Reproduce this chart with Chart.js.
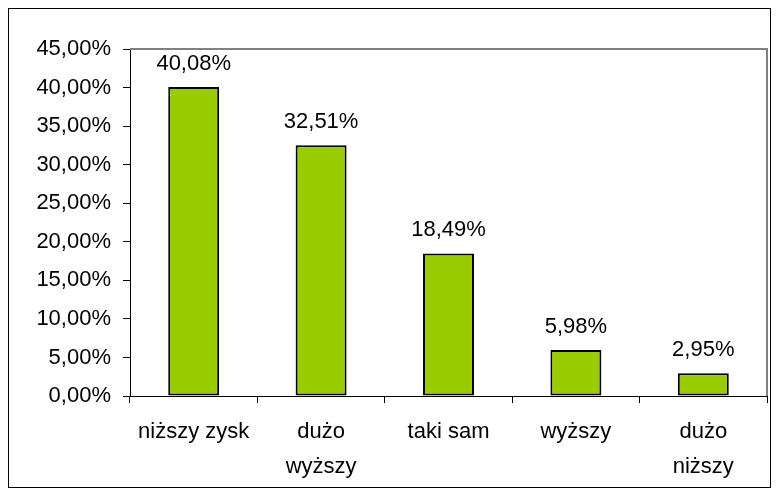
<!DOCTYPE html>
<html>
<head>
<meta charset="utf-8">
<script src="https://cdn.jsdelivr.net/npm/chart.js@4"></script>
<style>
  html, body { margin: 0; padding: 0; background: #fff; }
  #wrap { width: 778px; height: 495px; }
</style>
</head>
<body>
<div id="wrap"><canvas id="chart-main" width="778" height="495"></canvas></div>
<script>
const categories = [['niższy zysk'], ['dużo', 'wyższy'], ['taki sam'], ['wyższy'], ['dużo', 'niższy']];
const shares = [40.08, 32.51, 18.49, 5.98, 2.95];
const yTicks = [0, 5, 10, 15, 20, 25, 30, 35, 40, 45];

const fmt = (v) => v.toFixed(2).replace('.', ',') + '%';
const FONT = "'Liberation Sans', Arial, sans-serif";

// outer frame + gray top/right edge of plot area + value labels
const decor = {
  id: 'decor',
  beforeDraw: (chart) => {
    const ctx = chart.ctx;
    ctx.save();
    ctx.strokeStyle = '#000';
    ctx.lineWidth = 1;
    ctx.strokeRect(8.5, 8.5, 762, 479);
    ctx.restore();
  },
  afterDatasetsDraw: (chart) => {
    const ctx = chart.ctx;
    const a = chart.chartArea;
    ctx.save();
    ctx.strokeStyle = '#808080';
    ctx.lineWidth = 2;
    ctx.beginPath();
    ctx.moveTo(a.left, a.top);
    ctx.lineTo(a.right, a.top);
    ctx.lineTo(a.right, a.bottom);
    ctx.stroke();

    ctx.fillStyle = '#000';
    ctx.font = '22px ' + FONT;
    ctx.textAlign = 'center';
    ctx.textBaseline = 'alphabetic';
    chart.getDatasetMeta(0).data.forEach((bar, i) => {
      ctx.fillText(fmt(shares[i]), bar.x, bar.y - 17);
    });
    ctx.restore();
  }
};

new Chart(document.getElementById('chart-main'), {
  type: 'bar',
  data: {
    labels: categories,
    datasets: [{
      data: shares,
      backgroundColor: '#99cc00',
      borderColor: '#000',
      borderWidth: 2,
      borderSkipped: false,
      barPercentage: 0.4,
      categoryPercentage: 1
    }]
  },
  options: {
    responsive: false,
    animation: false,
    layout: { padding: { left: 8, right: 11, top: 49, bottom: 8 } },
    plugins: { legend: { display: false }, tooltip: { enabled: false } },
    scales: {
      x: {
        grid: { offset: true, drawOnChartArea: false, drawTicks: true, tickLength: 7, color: '#000', lineWidth: 1 },
        border: { color: '#000', width: 1 },
        ticks: { color: '#000', font: { family: FONT, size: 22, lineHeight: 1.6 }, padding: 11, maxRotation: 0, autoSkip: false },
        afterFit: (s) => { s.height = 91; }
      },
      y: {
        min: 0,
        max: 45,
        afterBuildTicks: (s) => { s.ticks = yTicks.map(v => ({ value: v })); },
        grid: { drawOnChartArea: false, drawTicks: true, tickLength: 7, color: '#000', lineWidth: 1 },
        border: { color: '#000', width: 1 },
        ticks: { color: '#000', font: { family: FONT, size: 22 }, padding: 12, callback: (v) => fmt(v) },
        afterFit: (s) => { s.width = 122; }
      }
    }
  },
  plugins: [decor]
});
</script>
</body>
</html>
